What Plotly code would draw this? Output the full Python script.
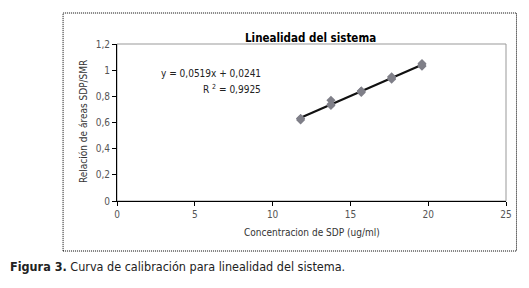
import plotly.graph_objects as go

# Data
conc = [11.8, 11.8, 11.8, 13.75, 13.75, 13.75, 15.7, 15.7, 15.7, 17.65, 17.65, 17.65, 19.6, 19.6, 19.6]
ratio = [0.62, 0.63, 0.63, 0.73, 0.74, 0.77, 0.83, 0.84, 0.84, 0.93, 0.94, 0.95, 1.03, 1.04, 1.05]
slope = 0.0519
intercept = 0.0241
r2 = 0.9925
x_ticks = [0, 5, 10, 15, 20, 25]
y_ticks = [0, 0.2, 0.4, 0.6, 0.8, 1.0, 1.2]

FONT = "Liberation Sans Narrow, DejaVu Sans Condensed, Arial Narrow, sans-serif"

line_x = [min(conc), max(conc)]
line_y = [slope * v + intercept for v in line_x]

fig = go.Figure()
fig.add_trace(go.Scatter(x=line_x, y=line_y, mode="lines",
                         line=dict(color="#111111", width=2.2), hoverinfo="skip"))
fig.add_trace(go.Scatter(x=conc, y=ratio, mode="markers",
                         marker=dict(symbol="diamond", size=7, color="#7f7f88",
                                     line=dict(width=0))))

L, R, T, B = 117, 22.5, 44, 87
W, H = 529, 288
pw, ph = W - L - R, H - T - B

def px(x):
    return (x - L) / pw

def py(y):
    return (H - B - y) / ph

fig.update_layout(
    width=W, height=H,
    margin=dict(l=L, r=R, t=T, b=B, autoexpand=False),
    paper_bgcolor="white", plot_bgcolor="white",
    showlegend=False,
    separators=",.",
    font=dict(family=FONT, size=10, color="#333333"),
    xaxis=dict(range=[0, 25], tickvals=x_ticks, showgrid=False, zeroline=False,
               showline=True, linecolor="#000000", linewidth=1,
               ticks="outside", ticklen=4, tickcolor="#000000",
               tickfont=dict(family=FONT, size=10, color="#555555")),
    yaxis=dict(range=[0, 1.2], tickvals=y_ticks, showgrid=False, zeroline=False,
               showline=True, linecolor="#000000", linewidth=1,
               ticks="outside", ticklen=4, tickcolor="#000000",
               tickfont=dict(family=FONT, size=10, color="#555555")),
    shapes=[
        dict(type="rect", xref="paper", yref="paper", x0=0, y0=0, x1=1, y1=1,
             line=dict(color="#999999", width=1), layer="below"),
        dict(type="rect", xref="paper", yref="paper",
             x0=px(63), x1=px(517), y0=py(251), y1=py(13),
             line=dict(color="#000000", width=1, dash="1px,1px")),
    ],
    annotations=[
        dict(text="<b>Linealidad del sistema</b>", xref="paper", yref="paper",
             x=px(311), y=py(29), showarrow=False,
             font=dict(family=FONT, size=11.5, color="#000000")),
        dict(text="y = 0,0519x + 0,0241", xref="paper", yref="paper",
             x=px(263), y=py(66), xanchor="right", showarrow=False,
             font=dict(family=FONT, size=10, color="#222222")),
        dict(text="R <sup>2</sup> = 0,9925", xref="paper", yref="paper",
             x=px(263), y=py(81), xanchor="right", showarrow=False,
             font=dict(family=FONT, size=10, color="#222222")),
        dict(text="Relación de áreas SDP/SMR", xref="paper", yref="paper",
             x=px(83), y=py(122), xanchor="center", yanchor="middle",
             textangle=-90, showarrow=False,
             font=dict(family=FONT, size=10, color="#333333")),
        dict(text="Concentracion de SDP (ug/ml)", xref="paper", yref="paper",
             x=px(312), y=py(240), showarrow=False,
             font=dict(family=FONT, size=10, color="#333333")),
        dict(text="<b>Figura 3.</b> Curva de calibración para linealidad del sistema.",
             xref="paper", yref="paper", x=px(8), y=py(276), xanchor="left",
             showarrow=False, font=dict(family=FONT, size=12.5, color="#222222")),
    ],
)

fig.write_html("out.html", config={"displayModeBar": False},
               post_script="document.body.style.margin='0';")
